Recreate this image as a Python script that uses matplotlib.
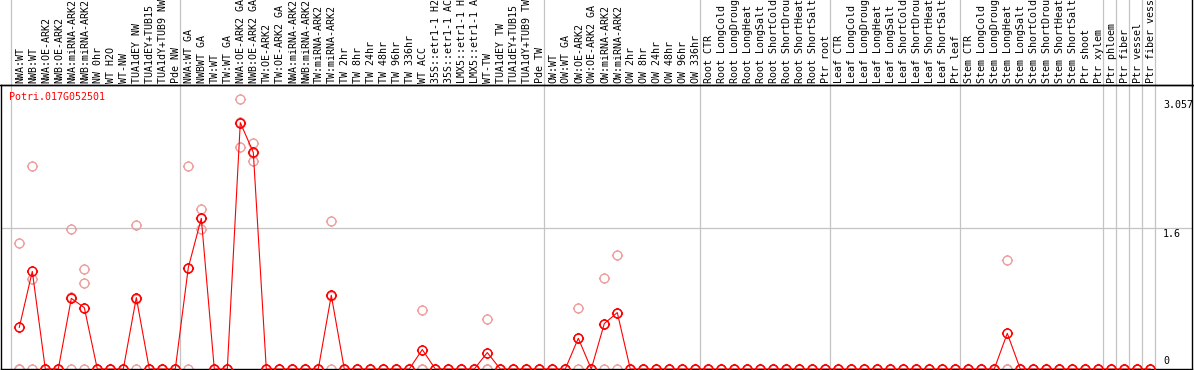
import numpy as np
import matplotlib
matplotlib.use("Agg")
import matplotlib.pyplot as plt
from matplotlib.path import Path
from matplotlib.lines import Line2D
from matplotlib.transforms import blended_transform_factory

gene = "Potri.017G052501"

samples = [
    # group 1
    "NWA:WT", "NWB:WT", "NWA:OE-ARK2", "NWB:OE-ARK2", "NWA:miRNA-ARK2", "NWB:miRNA-ARK2",
    "NW 0hr", "WT H2O", "WT-NW", "TUA1dEY NW", "TUA1dEY+TUB15 NW", "TUA1dY+TUB9 NW", "Pde NW",
    # group 2
    "NWA:WT GA", "NWBWT GA", "TW:WT", "TW:WT GA", "NWA:OE-ARK2 GA", "NWB:OE-ARK2 GA",
    "TW:OE-ARK2", "TW:OE-ARK2 GA", "NWA:miRNA-ARK2", "NWB:miRNA-ARK2", "TW:miRNA-ARK2",
    "TW:miRNA-ARK2", "TW 2hr", "TW 8hr", "TW 24hr", "TW 48hr", "TW 96hr", "TW 336hr", "WT ACC",
    "35S::etr1-1 H2O", "35S::etr1-1 ACC", "LMX5::etr1-1 H2O", "LMX5::etr1-1 ACC", "WT-TW",
    "TUA1dEY TW", "TUA1dEY+TUB15 TW", "TUA1dY+TUB9 TW", "Pde TW",
    # group 3
    "OW:WT", "OW:WT GA", "OW:OE-ARK2", "OW:OE-ARK2 GA", "OW:miRNA-ARK2", "OW:miRNA-ARK2",
    "OW 2hr", "OW 8hr", "OW 24hr", "OW 48hr", "OW 96hr", "OW 336hr",
    # root
    "Root CTR", "Root LongCold", "Root LongDrought", "Root LongHeat", "Root LongSalt",
    "Root ShortCold", "Root ShortDrought", "Root ShortHeat", "Root ShortSalt", "Ptr root",
    # leaf
    "Leaf CTR", "Leaf LongCold", "Leaf LongDrought", "Leaf LongHeat", "Leaf LongSalt",
    "Leaf ShortCold", "Leaf ShortDrought", "Leaf ShortHeat", "Leaf ShortSalt", "Ptr leaf",
    # stem
    "Stem CTR", "Stem LongCold", "Stem LongDrought", "Stem LongHeat", "Stem LongSalt",
    "Stem ShortCold", "Stem ShortDrought", "Stem ShortHeat", "Stem ShortSalt", "Ptr shoot",
    "Ptr xylem",
    # singles
    "Ptr phloem", "Ptr fiber", "Ptr vessel", "Ptr fiber vessel",
]

# last sample index (1-based) of each group -> grey separator after it
group_ends = [0, 13, 41, 53, 63, 73, 84, 85, 86, 87, 88]

mean_expr = [
    0.472, 1.106, 0, 0, 0.80, 0.695, 0, 0, 0, 0.809, 0, 0, 0,
    1.148, 1.707, 0, 0, 2.79, 2.454, 0, 0, 0, 0, 0, 0.835, 0, 0, 0, 0, 0, 0,
    0.22, 0, 0, 0, 0, 0.186, 0, 0, 0, 0,
    0, 0, 0.348, 0, 0.514, 0.639, 0, 0, 0, 0, 0, 0,
    0, 0, 0, 0, 0, 0, 0, 0, 0, 0,
    0, 0, 0, 0, 0, 0, 0, 0, 0, 0,
    0, 0, 0, 0.404, 0, 0, 0, 0, 0, 0, 0,
    0, 0, 0, 0,
]

rep1 = [
    1.431, 2.304, 0, 0, 1.582, 1.137, 0, 0, 0, 1.635, 0, 0, 0,
    2.304, 1.817, 0, 0, 3.057, 2.564, 0, 0, 0, 0, 0, 1.681, 0, 0, 0, 0, 0, 0,
    0.673, 0, 0, 0, 0, 0.571, 0, 0, 0, 0,
    0, 0, 0.695, 0, 1.035, 1.288, 0, 0, 0, 0, 0, 0,
    0, 0, 0, 0, 0, 0, 0, 0, 0, 0,
    0, 0, 0, 0, 0, 0, 0, 0, 0, 0,
    0, 0, 0, 1.239, 0, 0, 0, 0, 0, 0, 0,
    0, 0, 0, 0,
]

rep2 = [
    0, 1.024, 0, 0, 0.82, 0.971, 0, 0, 0, 0.79, 0, 0, 0,
    1.14, 1.59, 0, 0, 2.511, 2.352, 0, 0, 0, 0, 0, 0.824, 0, 0, 0, 0, 0, 0,
    0, 0, 0, 0, 0, 0, 0, 0, 0, 0,
    0, 0, 0.35, 0, 0.507, 0.63, 0, 0, 0, 0, 0, 0,
    0, 0, 0, 0, 0, 0, 0, 0, 0, 0,
    0, 0, 0, 0, 0, 0, 0, 0, 0, 0,
    0, 0, 0, 0, 0, 0, 0, 0, 0, 0, 0,
    0, 0, 0, 0,
]

rep3 = [
    0, 0, 0, 0, 0, 0, 0, 0, 0, 0, 0, 0, 0,
    0, 1.71, 0, 0, 2.80, 2.45, 0, 0, 0, 0, 0, 0, 0, 0, 0, 0, 0, 0,
    0, 0, 0, 0, 0, 0, 0, 0, 0, 0,
    0, 0, 0, 0, 0, 0, 0, 0, 0, 0, 0, 0,
    0, 0, 0, 0, 0, 0, 0, 0, 0, 0,
    0, 0, 0, 0, 0, 0, 0, 0, 0, 0,
    0, 0, 0, 0, 0, 0, 0, 0, 0, 0, 0,
    0, 0, 0, 0,
]

y_ticks = [0, 1.6, 3.057]
y_tick_labels = ["0", "1.6", "3.057"]

x = np.arange(1, len(samples) + 1)

# circle with four small ticks, like the original marker
circ = Path.unit_circle()
tick_len = 1.25
ticks = Path([(0, 1), (0, tick_len), (0, -1), (0, -tick_len),
              (1, 0), (tick_len, 0), (-1, 0), (-tick_len, 0)],
             [Path.MOVETO, Path.LINETO] * 4)
marker_path = Path.make_compound_path(circ, ticks)

W, H = 1194, 370
fig = plt.figure(figsize=(W / 100, H / 100), dpi=100)
ax = fig.add_axes([1 / W, 1 / H, 1191 / W, 284 / H])

ax.set_xlim(-0.408, 91.21)
ax.set_ylim(0, 284 / 88.3)

grey = "#c4c4c4"
for g in group_ends:
    ax.axvline(g + 0.33, ymin=0, ymax=369 / 284, color=grey, lw=0.9, clip_on=False, zorder=1)
ax.axhline(1.6, color=grey, lw=0.9, zorder=1)

ms = 8.0
for rep in (rep1, rep2, rep3):
    ax.plot(x, rep, linestyle="none", marker=marker_path, markersize=ms,
            markerfacecolor="none", markeredgecolor="#ee9c9c", markeredgewidth=1.0, zorder=2)

ax.plot(x, mean_expr, color="red", lw=0.8, marker=marker_path, markersize=ms,
        markerfacecolor="none", markeredgecolor="red", markeredgewidth=1.1, zorder=3)

for s in ["left", "right", "top", "bottom"]:
    ax.spines[s].set_color("black")
    ax.spines[s].set_linewidth(1.0)
ax.set_xticks([])
ax.set_yticks([])

# top spine runs the full width
fig.add_artist(Line2D([0, 1], [285 / H, 285 / H], transform=fig.transFigure, color="black", lw=1.0))
# right border through the label area
fig.add_artist(Line2D([1192 / W, 1192 / W], [284 / H, 1], transform=fig.transFigure, color="black", lw=1.0))

mono = "DejaVu Sans Mono"
fs = 7.2
trans = blended_transform_factory(ax.transData, ax.transAxes)
for xi, lab in zip(x, samples):
    ax.text(xi + 0.05, 1 + 2 / 284, lab, rotation=90, ha="center", va="bottom",
            family=mono, fontsize=fs, transform=trans, clip_on=False)

ax.text(0.007, 0.959, gene, color="red", family=mono, fontsize=fs,
        ha="left", va="center", transform=ax.transAxes)

lab_x = (1163 - 1) / 1191
for v, t in zip(y_ticks, y_tick_labels):
    if v == 0:
        ax.text(lab_x, v + 0.03, t, family=mono, fontsize=fs, ha="left", va="bottom",
                transform=blended_transform_factory(ax.transAxes, ax.transData))
    else:
        ax.text(lab_x, v - 0.01, t, family=mono, fontsize=fs, ha="left", va="top",
                transform=blended_transform_factory(ax.transAxes, ax.transData))

fig.savefig("out.png", dpi=100)
